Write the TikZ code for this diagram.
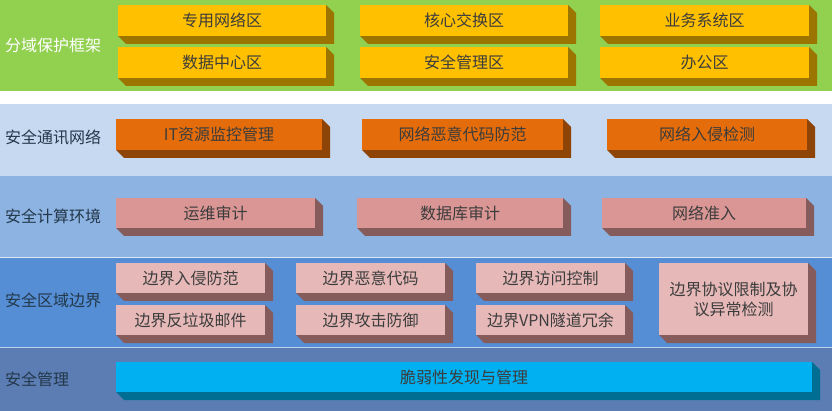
\documentclass[tikz,border=0pt]{standalone}
\usepackage{fontspec}
\newfontfamily\cjk{Noto Sans CJK SC}
\definecolor{bandA}{HTML}{92D050}
\definecolor{bandB}{HTML}{C6D9F1}
\definecolor{bandC}{HTML}{8DB3E2}
\definecolor{bandD}{HTML}{558ED5}
\definecolor{bandE}{HTML}{5B7DB3}
\definecolor{yel}{HTML}{FFC000}
\definecolor{yelS}{HTML}{9C7400}
\definecolor{ora}{HTML}{E46C0A}
\definecolor{oraS}{HTML}{8E4406}
\definecolor{pinkA}{HTML}{D99694}
\definecolor{pinkB}{HTML}{E6B9B8}
\definecolor{pinkS}{HTML}{855C5B}
\definecolor{cya}{HTML}{00B0F0}
\definecolor{cyaS}{HTML}{006E92}
\definecolor{lbl}{HTML}{23384A}
\definecolor{btx}{HTML}{3C3C3C}
\tikzset{
  boxtext/.style={font=\cjk\fontsize{16}{20}\selectfont, text=btx, align=center, inner sep=0pt},
  lbltext/.style={font=\cjk\fontsize{16}{20}\selectfont, text=lbl, anchor=west, inner sep=0pt}
}
% name, x1, y1, x2, y2, fill, shadow, text
\newcommand\mybox[8]{%
  \fill[#7] (#4,#3) -- ++(8,8) -- ({#4+8},{#5+8}) -- ({#2+8},{#5+8}) -- (#2,#5) -- cycle;
  \fill[#6] (#2,#3) rectangle (#4,#5);
  \node[boxtext] (#1) at ({(#2+#4)/2},{(#3+#5)/2}) {#8};
}
\begin{document}
\begin{tikzpicture}[x=1pt,y=-1pt]
\useasboundingbox (0,0) rectangle (832,411);
\fill[white] (0,0) rectangle (832,411);
% bands
\fill[bandA] (0,0) rectangle (832,91);
\fill[bandB] (0,104) rectangle (832,176);
\fill[bandC] (0,176) rectangle (832,257);
\fill[bandD] (0,257) rectangle (832,347);
\fill[bandE] (0,347) rectangle (832,411);
\draw[white!70!bandC, line width=0.8pt] (0,257) -- (832,257);
\draw[white!60!bandD, line width=0.6pt] (0,347) -- (832,347);
% labels
\node[lbltext, text=white] (l1) at (5,45) {分域保护框架};
\node[lbltext] (l2) at (5,137) {安全通讯网络};
\node[lbltext] (l3) at (5,216) {安全计算环境};
\node[lbltext] (l4) at (5,300) {安全区域边界};
\node[lbltext] (l5) at (5,379) {安全管理};
% row 1
\mybox{a1}{118}{5}{326}{36}{yel}{yelS}{专用网络区}
\mybox{a2}{360}{5}{568}{36}{yel}{yelS}{核心交换区}
\mybox{a3}{600}{5}{809}{36}{yel}{yelS}{业务系统区}
\mybox{a4}{118}{47}{326}{78}{yel}{yelS}{数据中心区}
\mybox{a5}{360}{47}{568}{78}{yel}{yelS}{安全管理区}
\mybox{a6}{600}{47}{809}{78}{yel}{yelS}{办公区}
% row 2
\mybox{b1}{116}{119}{322}{150}{ora}{oraS}{IT资源监控管理}
\mybox{b2}{362}{119}{563}{150}{ora}{oraS}{网络恶意代码防范}
\mybox{b3}{607}{119}{807}{150}{ora}{oraS}{网络入侵检测}
% row 3
\mybox{c1}{116}{198}{315}{228}{pinkA}{pinkS}{运维审计}
\mybox{c2}{357}{198}{563}{228}{pinkA}{pinkS}{数据库审计}
\mybox{c3}{602}{198}{806}{228}{pinkA}{pinkS}{网络准入}
% row 4
\mybox{d1}{116}{263}{265}{293}{pinkB}{pinkS}{边界入侵防范}
\mybox{d2}{296}{263}{445}{293}{pinkB}{pinkS}{边界恶意代码}
\mybox{d3}{476}{263}{625}{293}{pinkB}{pinkS}{边界访问控制}
\mybox{d4}{116}{305}{265}{335}{pinkB}{pinkS}{边界反垃圾邮件}
\mybox{d5}{296}{305}{445}{335}{pinkB}{pinkS}{边界攻击防御}
\mybox{d6}{476}{305}{625}{335}{pinkB}{pinkS}{边界VPN隧道冗余}
\mybox{d7}{659}{263}{808}{335}{pinkB}{pinkS}{边界协议限制及协\\议异常检测}
% row 5
\mybox{e1}{116}{362}{812}{392}{cya}{cyaS}{脆弱性发现与管理}
\end{tikzpicture}
\end{document}
